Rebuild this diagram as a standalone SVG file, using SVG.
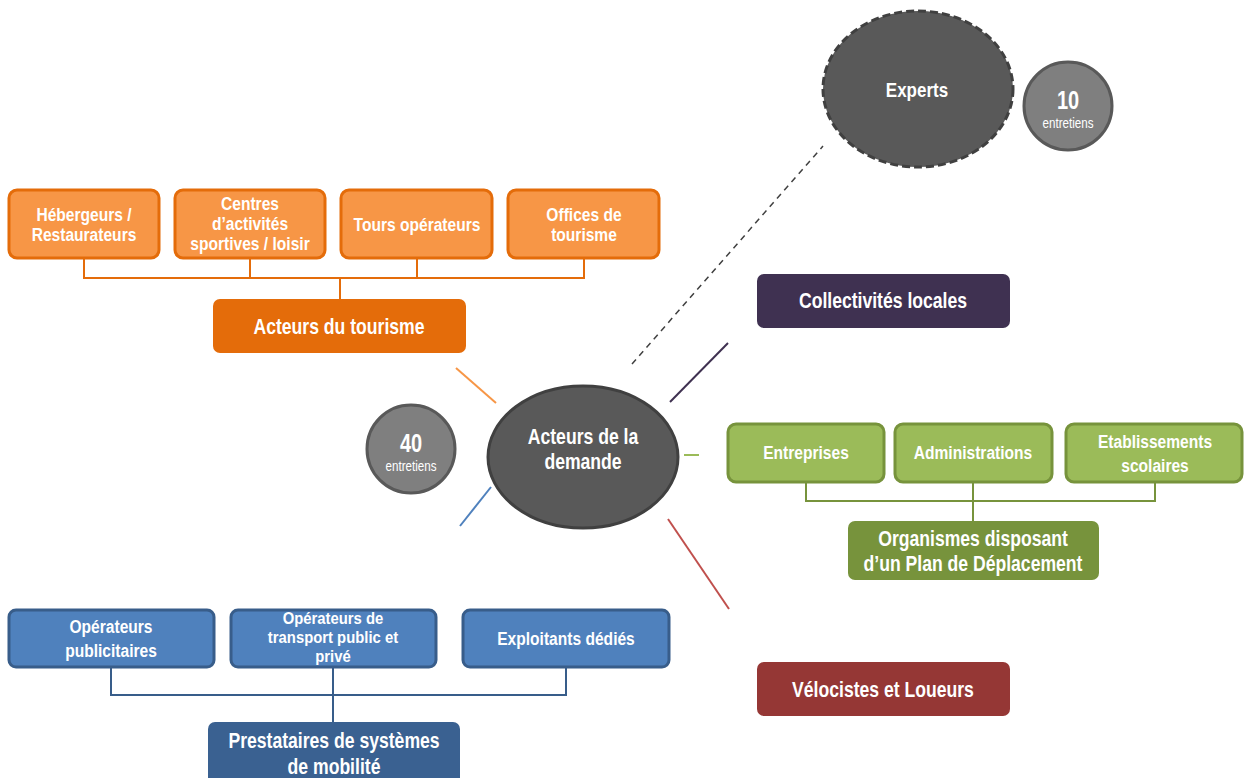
<svg xmlns="http://www.w3.org/2000/svg" width="1244" height="778" viewBox="0 0 1244 778">
<style>
text{font-family:"Liberation Sans",Arial,sans-serif;font-weight:bold;fill:#fff;text-anchor:middle}
.s{font-size:19px}
.t{font-size:16.5px}
.m{font-size:22px}
.or{fill:#F79646;stroke:#E46C0A;stroke-width:3}
.ord{fill:#E46C0A;stroke:none}
.gr{fill:#9BBB59;stroke:#77933C;stroke-width:3}
.grd{fill:#77933C;stroke:none}
.bl{fill:#4F81BD;stroke:#385D8A;stroke-width:3}
.bld{fill:#3A6191;stroke:none}
.num{font-size:25px}
.ent{font-size:14px;font-weight:normal}
</style>
<rect width="1244" height="778" fill="#fff"/>
<g id="connectors" fill="none" stroke-width="2">
<path d="M84 258V278H584V258M250 258V278M417 258V278M340 278V299" stroke="#E46C0A"/>
<path d="M806 482V501H1155V482M973 482V521" stroke="#77933C"/>
<path d="M111 667V695H566V667M333 667V722" stroke="#385D8A"/>
<line x1="456" y1="368" x2="496" y2="403" stroke="#F79646"/>
<line x1="670" y1="402" x2="728" y2="343" stroke="#3F3151"/>
<line x1="684" y1="455" x2="699" y2="455" stroke="#9BBB59"/>
<line x1="460" y1="526" x2="491" y2="487" stroke="#4F81BD"/>
<line x1="668" y1="519" x2="729" y2="609" stroke="#C0504D"/>
<line x1="632" y1="364" x2="823" y2="146" stroke="#404040" stroke-width="1.5" stroke-dasharray="6,5"/>
</g>
<g id="n-heb"><rect class="or" x="9" y="190" width="150" height="68" rx="8"/><text class="s" transform="translate(84 221) scale(0.82 1)">Hébergeurs /</text><text class="s" transform="translate(84 241) scale(0.82 1)">Restaurateurs</text></g>
<g id="n-centres"><rect class="or" x="175" y="190" width="150" height="68" rx="8"/><text class="s" transform="translate(250 210) scale(0.82 1)">Centres</text><text class="s" transform="translate(250 230) scale(0.82 1)">d’activités</text><text class="s" transform="translate(250 250) scale(0.82 1)">sportives / loisir</text></g>
<g id="n-tours"><rect class="or" x="341" y="190" width="151" height="68" rx="8"/><text class="s" transform="translate(417 231) scale(0.82 1)">Tours opérateurs</text></g>
<g id="n-offices"><rect class="or" x="508" y="190" width="151" height="68" rx="8"/><text class="s" transform="translate(584 221) scale(0.82 1)">Offices de</text><text class="s" transform="translate(584 241) scale(0.82 1)">tourisme</text></g>
<g id="n-tourisme"><rect class="ord" x="213" y="299" width="253" height="54" rx="7"/><text class="m" transform="translate(339 334) scale(0.8 1)">Acteurs du tourisme</text></g>
<g id="n-experts"><ellipse cx="918" cy="89" rx="95" ry="78" fill="#595959" stroke="#404040" stroke-width="3" stroke-dasharray="8,4"/><text class="s" transform="translate(917 97) scale(0.85 1)" style="font-size:20px">Experts</text></g>
<g id="n-10"><circle cx="1068" cy="106" r="44" fill="#7F7F7F" stroke="#595959" stroke-width="3"/><text class="num" transform="translate(1068 109) scale(0.8 1)">10</text><text class="ent" transform="translate(1068 128) scale(0.83 1)">entretiens</text></g>
<g id="n-collect"><rect x="757" y="274" width="253" height="54" rx="7" fill="#3F3151"/><text class="m" transform="translate(883 308) scale(0.8 1)">Collectivités locales</text></g>
<g id="n-demande"><ellipse cx="583" cy="457" rx="95" ry="71" fill="#595959" stroke="#404040" stroke-width="3"/><text class="m" transform="translate(583 444) scale(0.8 1)">Acteurs de la</text><text class="m" transform="translate(583 469) scale(0.8 1)">demande</text></g>
<g id="n-40"><circle cx="411" cy="449" r="44" fill="#7F7F7F" stroke="#595959" stroke-width="3"/><text class="num" transform="translate(411 452) scale(0.8 1)">40</text><text class="ent" transform="translate(411 471) scale(0.83 1)">entretiens</text></g>
<g id="n-entreprises"><rect class="gr" x="728" y="424" width="156" height="58" rx="8"/><text class="s" transform="translate(806 459) scale(0.82 1)">Entreprises</text></g>
<g id="n-admin"><rect class="gr" x="895" y="424" width="157" height="58" rx="8"/><text class="s" transform="translate(973 459) scale(0.82 1)">Administrations</text></g>
<g id="n-etab"><rect class="gr" x="1066" y="424" width="176" height="58" rx="8"/><text class="s" transform="translate(1155 448) scale(0.82 1)">Etablissements</text><text class="s" transform="translate(1155 472) scale(0.82 1)">scolaires</text></g>
<g id="n-organismes"><rect class="grd" x="848" y="521" width="251" height="59" rx="7"/><text class="m" transform="translate(973 546) scale(0.8 1)">Organismes disposant</text><text class="m" transform="translate(973 571) scale(0.8 1)">d’un Plan de Déplacement</text></g>
<g id="n-velo"><rect x="757" y="662" width="253" height="54" rx="7" fill="#953735"/><text class="m" transform="translate(883 697) scale(0.8 1)">Vélocistes et Loueurs</text></g>
<g id="n-pub"><rect class="bl" x="9" y="610" width="205" height="57" rx="7"/><text class="s" transform="translate(111 633) scale(0.82 1)">Opérateurs</text><text class="s" transform="translate(111 657) scale(0.82 1)">publicitaires</text></g>
<g id="n-transport"><rect class="bl" x="231" y="610" width="205" height="57" rx="7"/><text class="t" transform="translate(333 624) scale(0.9 1)">Opérateurs de</text><text class="t" transform="translate(333 643) scale(0.9 1)">transport public et</text><text class="t" transform="translate(333 662) scale(0.9 1)">privé</text></g>
<g id="n-exploit"><rect class="bl" x="463" y="610" width="206" height="57" rx="7"/><text class="s" transform="translate(566 645) scale(0.82 1)">Exploitants dédiés</text></g>
<g id="n-prest"><rect class="bld" x="208" y="722" width="252" height="64" rx="7"/><text class="m" transform="translate(334 748) scale(0.8 1)">Prestataires de systèmes</text><text class="m" transform="translate(334 774) scale(0.8 1)">de mobilité</text></g>
</svg>
